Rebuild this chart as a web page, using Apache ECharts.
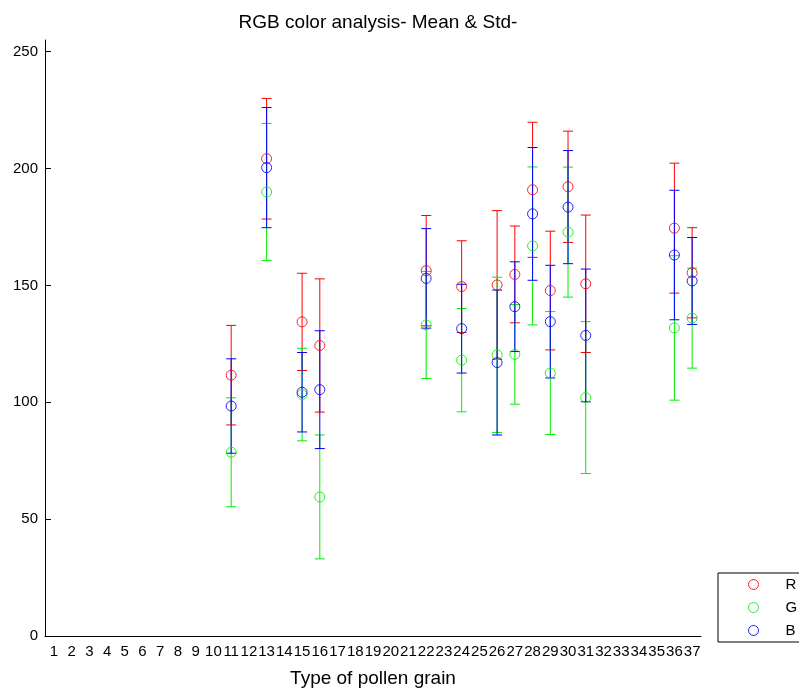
<!DOCTYPE html>
<html><head><meta charset="utf-8">
<script src="https://cdn.jsdelivr.net/npm/echarts@6/dist/echarts.min.js"></script>
<style>html,body{margin:0;padding:0;background:#fff}#c{width:799px;height:693px}</style>
</head><body><div id="c"></div>
<script>
const categories = ['1','2','3','4','5','6','7','8','9','10','11','12','13','14','15','16','17','18','19','20','21','22','23','24','25','26','27','28','29','30','31','32','33','34','35','36','37'];
const yTicks = [0, 50, 100, 150, 200, 250];
const types = ['11','13','15','16','22','24','26','27','28','29','30','31','36','37'];
const rMean = [111.6, 204.2, 134.4, 124.3, 156.3, 149.5, 150.2, 154.7, 190.9, 147.8, 192.2, 150.7, 174.5, 155.4];
const rStd  = [21.3, 25.8, 20.8, 28.5, 23.6, 19.6, 31.8, 20.7, 28.9, 25.4, 23.8, 29.4, 27.8, 19.3];
const gMean = [78.6, 190.0, 103.3, 59.5, 133.1, 118.0, 120.3, 120.5, 166.9, 112.5, 172.8, 102.0, 131.8, 136.0];
const gStd  = [23.3, 29.3, 19.8, 26.5, 22.9, 22.1, 33.2, 21.3, 33.8, 26.3, 27.8, 32.5, 30.9, 21.4];
const bMean = [98.4, 200.4, 104.3, 105.4, 153.0, 131.5, 117.0, 140.9, 180.6, 134.5, 183.5, 128.6, 163.0, 151.9];
const bStd  = [20.2, 25.7, 17.0, 25.2, 21.3, 19.0, 31.0, 19.2, 28.4, 24.1, 24.2, 28.4, 27.7, 18.6];

const FONT = 'Liberation Sans, Arial, Helvetica, sans-serif';
function errRender(color) {
  return function (params, api) {
    const x = api.value(0), m = api.value(1), s = api.value(2);
    const t = api.coord([x, m + s]);
    const b = api.coord([x, m - s]);
    const hw = 5;
    const st = { stroke: color, lineWidth: 1 };
    return { type: 'group', children: [
      { type: 'line', shape: { x1: t[0], y1: t[1], x2: b[0], y2: b[1] }, style: st },
      { type: 'line', shape: { x1: t[0] - hw, y1: t[1], x2: t[0] + hw, y2: t[1] }, style: st },
      { type: 'line', shape: { x1: b[0] - hw, y1: b[1], x2: b[0] + hw, y2: b[1] }, style: st }
    ]};
  };
}
function mk(name, color, mean, std) {
  return [
    { name: name + ' std', type: 'custom', renderItem: errRender(color),
      encode: { x: 0, y: 1 },
      data: types.map((c, i) => [c, mean[i], std[i]]), silent: true },
    { name: name, type: 'scatter', symbol: 'circle', symbolSize: 10,
      itemStyle: { color: 'rgba(255,255,255,0)', borderColor: color, borderWidth: 1, opacity: 0.85 },
      emphasis: { disabled: true },
      data: types.map((c, i) => [c, mean[i]]) }
  ];
}
const chart = echarts.init(document.getElementById('c'));
chart.setOption({
  backgroundColor: '#fff',
  animation: false,
  title: { text: 'RGB color analysis- Mean & Std-', left: 373, textAlign: 'center', top: 8,
    textStyle: { fontFamily: FONT, fontSize: 19, fontWeight: 'normal', color: '#000' } },
  grid: { left: 45, right: 98, top: 40, bottom: 52, containLabel: false },
  legend: {
    data: ['R', 'G', 'B'], orient: 'vertical', left: 718, top: 573,
    itemWidth: 10, itemHeight: 14, itemGap: 8,
    padding: [4, 40, 4, 30], borderColor: '#000', borderWidth: 1,
    itemStyle: { borderWidth: 1 },
    textStyle: { fontFamily: FONT, fontSize: 15, color: '#000', padding: [0, 0, 0, 22] }
  },
  xAxis: {
    type: 'category', data: categories, boundaryGap: true,
    name: 'Type of pollen grain', nameLocation: 'middle', nameGap: 33,
    nameTextStyle: { fontFamily: FONT, fontSize: 19, color: '#000' },
    axisLine: { lineStyle: { color: '#000', width: 1 } },
    axisTick: { alignWithLabel: true, inside: true, length: 5, interval: 0, lineStyle: { color: '#000' } },
    axisLabel: { interval: 0, fontFamily: FONT, fontSize: 15, color: '#000', margin: 8, hideOverlap: false },
    splitLine: { show: false }
  },
  yAxis: {
    type: 'value', min: 0, max: 255, interval: 50,
    axisLine: { show: true, lineStyle: { color: '#000', width: 1 } },
    axisTick: { show: true, inside: true, length: 6, customValues: yTicks, lineStyle: { color: '#000' } },
    axisLabel: { customValues: yTicks, fontFamily: FONT, fontSize: 15, color: '#000', margin: 7 },
    splitLine: { show: false }
  },
  series: [].concat(mk('R', '#ff0000', rMean, rStd), mk('G', '#00ee00', gMean, gStd), mk('B', '#0000ff', bMean, bStd))
});
</script></body></html>
